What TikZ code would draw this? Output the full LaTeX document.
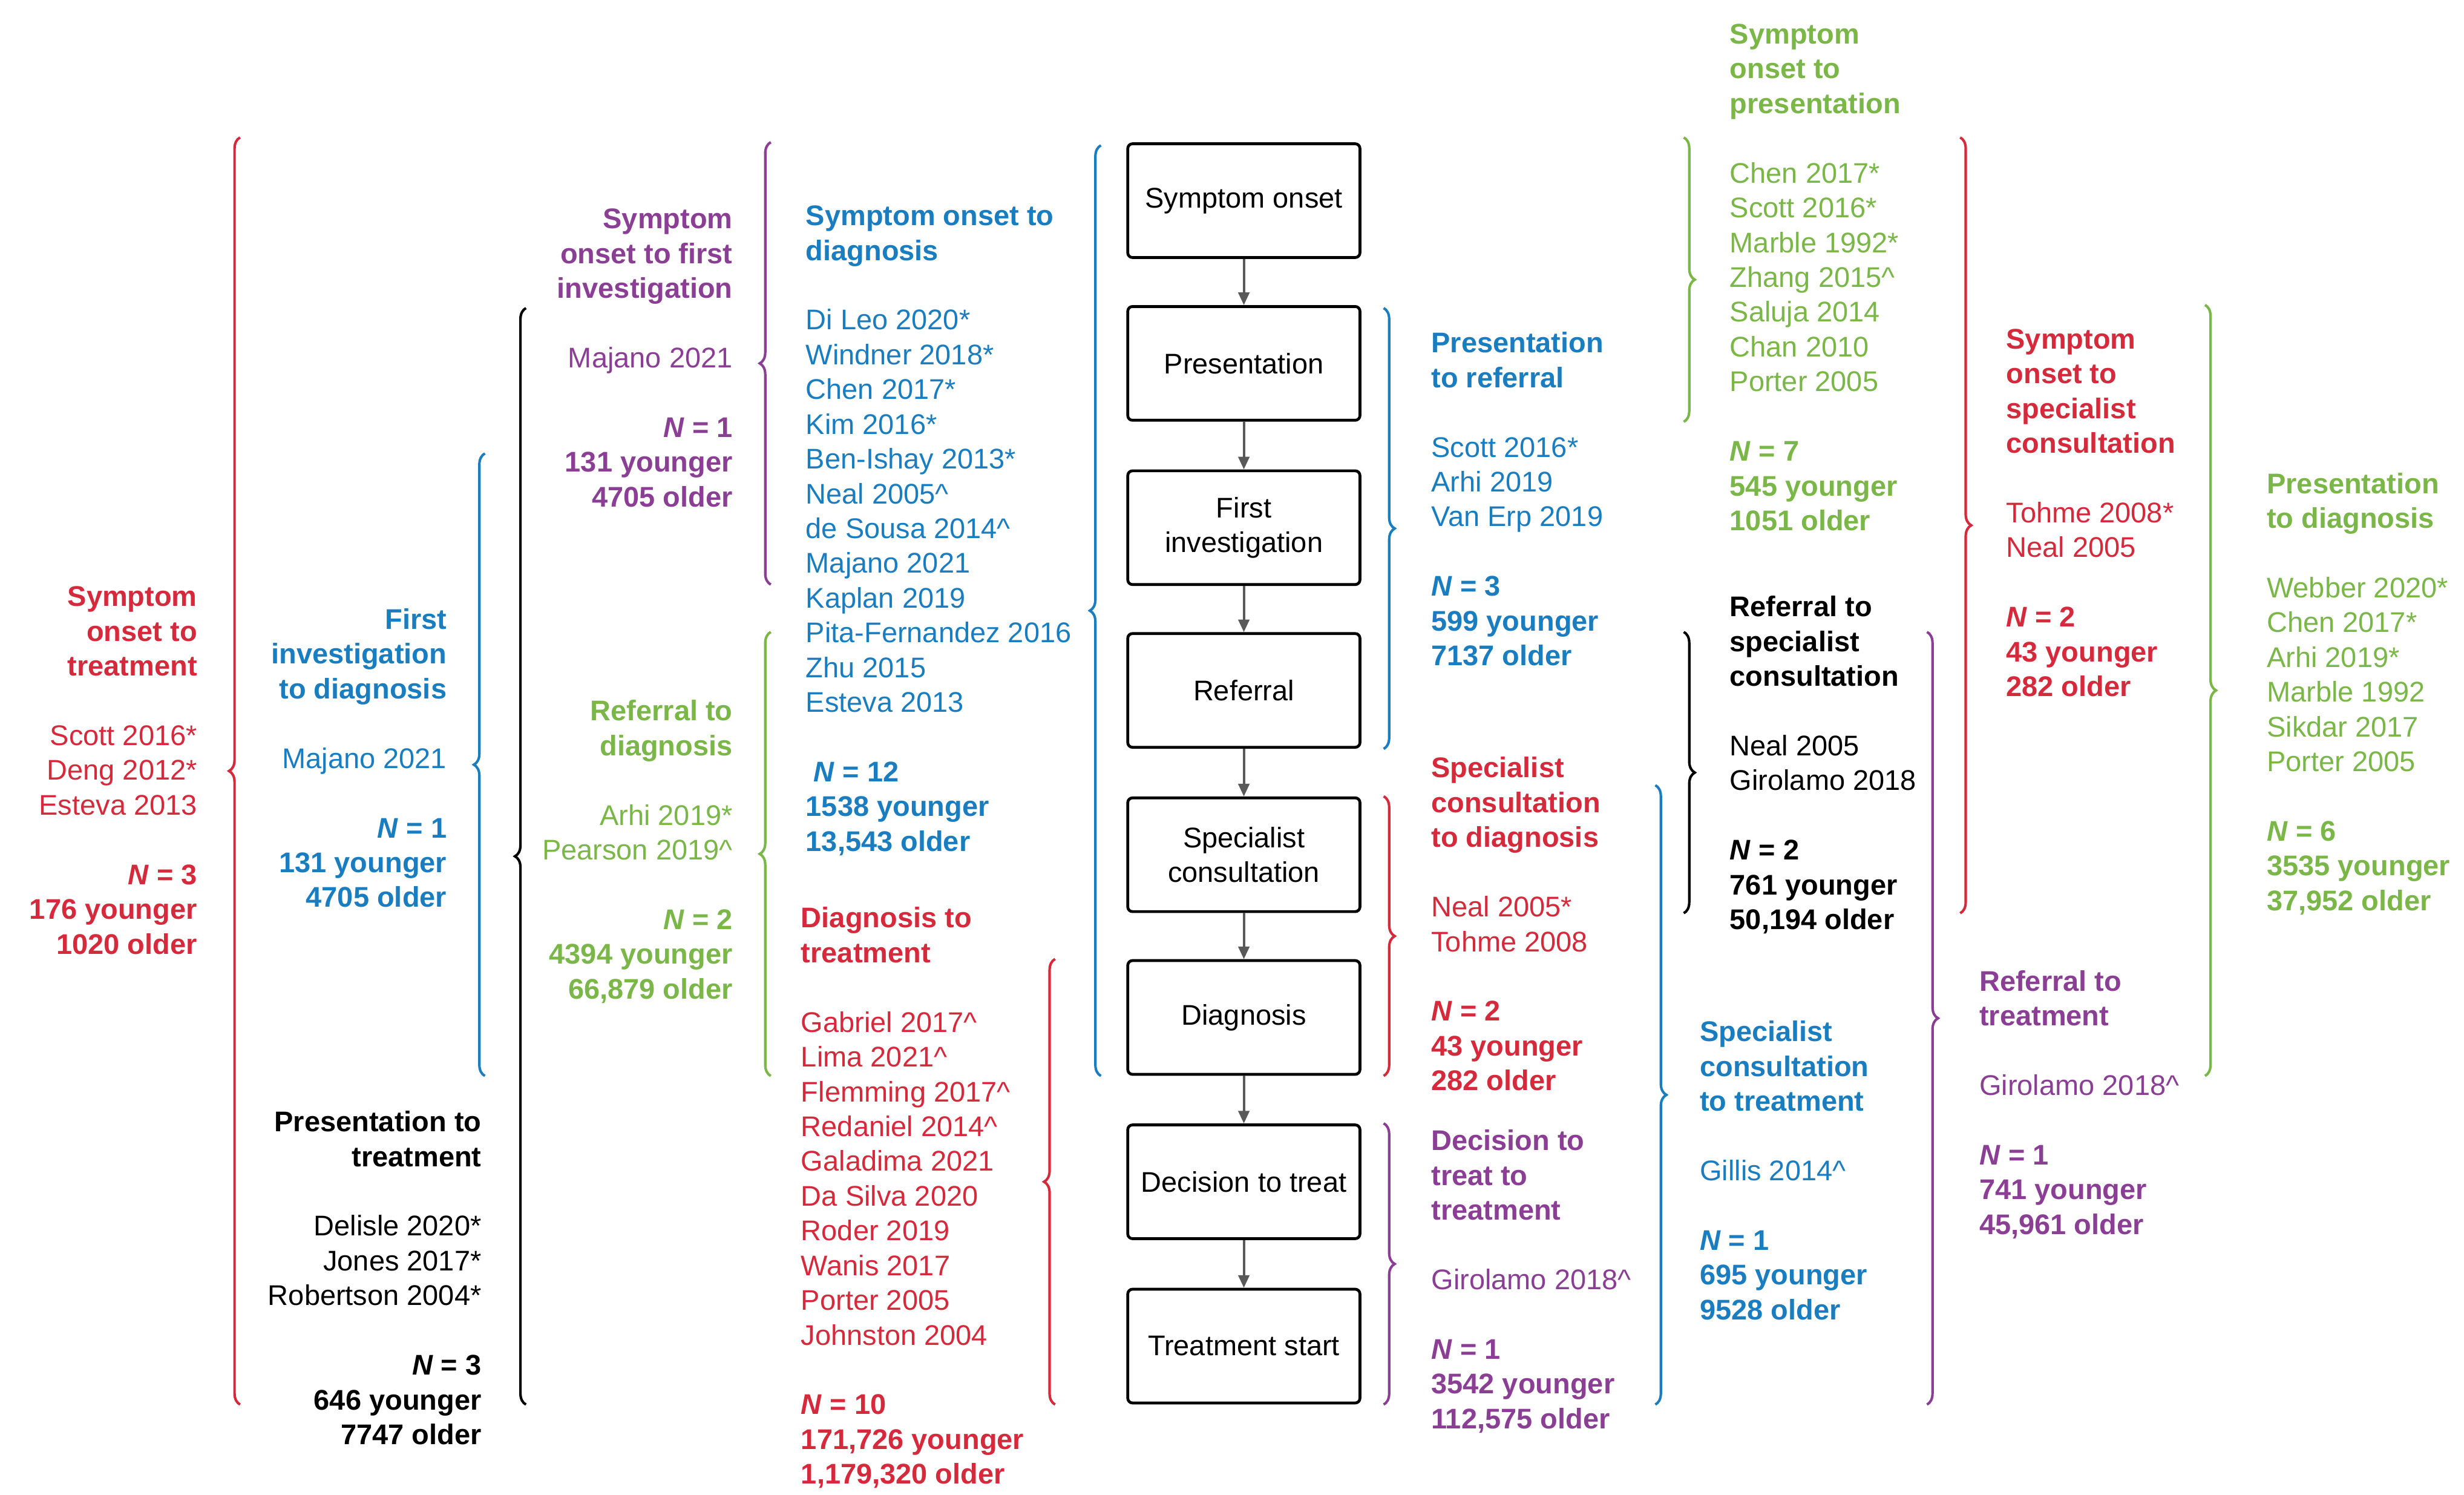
\documentclass[tikz,border=0pt]{standalone}
\usepackage{fontspec}
\setmainfont{Liberation Sans}
\usetikzlibrary{decorations.pathreplacing,arrows.meta}
\definecolor{cR}{HTML}{D42A3C}
\definecolor{cB}{HTML}{1A7DC0}
\definecolor{cG}{HTML}{7AB648}
\definecolor{cP}{HTML}{8B3F94}
\newcommand{\Nn}[1]{\textbf{\textit{N} = #1}}
\begin{document}
\begin{tikzpicture}[x=1pt,y=-1pt,
  txt/.style={inner sep=0pt,font=\fontsize{18}{22}\selectfont},
  tl/.style={txt,align=left,anchor=north west},
  tr/.style={txt,align=right,anchor=north east},
  box/.style={draw,line width=1.8pt,rounded corners=3pt,minimum width=147pt,minimum height=72pt,align=center,inner sep=2pt,font=\fontsize{18}{22}\selectfont},
  arr/.style={draw=black!65,line width=1.5pt,-{Triangle[length=8pt,width=7pt]}},
  br/.style={decorate,decoration={brace,amplitude=7pt,aspect=0.5},line width=1.6pt}]
\useasboundingbox (0,0) rectangle (1560,946);
% boxes
\node[box] (b1) at (787.5,127) {Symptom onset};
\node[box] (b2) at (787.5,230) {Presentation};
\node[box] (b3) at (787.5,334) {First\\investigation};
\node[box] (b4) at (787.5,437) {Referral};
\node[box] (b5) at (787.5,541) {Specialist\\consultation};
\node[box] (b6) at (787.5,644) {Diagnosis};
\node[box] (b7) at (787.5,748) {Decision to treat};
\node[box] (b8) at (787.5,852) {Treatment start};
\foreach \a/\b in {b1/b2,b2/b3,b3/b4,b4/b5,b5/b6,b6/b7,b7/b8} \draw[arr] (\a) -- (\b);
% left braces (tip left)
\draw[br,cR] (152,889) -- (152,87);
\draw[br,cB] (307,681) -- (307,287);
\draw[br,black] (333,889) -- (333,195);
\draw[br,cP] (488,370) -- (488,90);
\draw[br,cG] (488,681) -- (488,400);
\draw[br,cB] (697,681) -- (697,92);
\draw[br,cR] (668,889) -- (668,607);
% right braces (tip right)
\draw[br,cB] (876,195) -- (876,474);
\draw[br,cR] (876,504) -- (876,681);
\draw[br,cP] (876,711) -- (876,889);
\draw[br,cG] (1066,87) -- (1066,267);
\draw[br,black] (1066,400) -- (1066,578);
\draw[br,cB] (1048,497) -- (1048,889);
\draw[br,cR] (1241,87) -- (1241,578);
\draw[br,cP] (1220,400) -- (1220,889);
\draw[br,cG] (1396,193) -- (1396,681);
% texts left
\node[tr,text=cR] (t1) at (125,371) {\textbf{Symptom}\\\textbf{onset to}\\\textbf{treatment}\\[22pt]Scott 2016*\\Deng 2012*\\Esteva 2013\\[22pt]\Nn{3}\\\textbf{176 younger}\\\textbf{1020 older}};
\node[tr,text=cB] (t2) at (283,385) {\textbf{First}\\\textbf{investigation}\\\textbf{to diagnosis}\\[22pt]Majano 2021\\[22pt]\Nn{1}\\\textbf{131 younger}\\\textbf{4705 older}};
\node[tr,text=black] (t3) at (305,703) {\textbf{Presentation to}\\\textbf{treatment}\\[22pt]Delisle 2020*\\Jones 2017*\\Robertson 2004*\\[22pt]\Nn{3}\\\textbf{646 younger}\\\textbf{7747 older}};
\node[tr,text=cP] (t4) at (464,132) {\textbf{Symptom}\\\textbf{onset to first}\\\textbf{investigation}\\[22pt]Majano 2021\\[22pt]\Nn{1}\\\textbf{131 younger}\\\textbf{4705 older}};
\node[tr,text=cG] (t5) at (464,443) {\textbf{Referral to}\\\textbf{diagnosis}\\[22pt]Arhi 2019*\\Pearson 2019\textasciicircum\\[22pt]\Nn{2}\\\textbf{4394 younger}\\\textbf{66,879 older}};
\node[tl,text=cB] (t6) at (510,130) {\textbf{Symptom onset to}\\\textbf{diagnosis}\\[22pt]Di Leo 2020*\\Windner 2018*\\Chen 2017*\\Kim 2016*\\Ben-Ishay 2013*\\Neal 2005\textasciicircum\\de Sousa 2014\textasciicircum\\Majano 2021\\Kaplan 2019\\Pita-Fernandez 2016\\Zhu 2015\\Esteva 2013\\[22pt]\hspace{5pt}\Nn{12}\\\textbf{1538 younger}\\\textbf{13,543 older}};
\node[tl,text=cR] (t7) at (507,574) {\textbf{Diagnosis to}\\\textbf{treatment}\\[22pt]Gabriel 2017\textasciicircum\\Lima 2021\textasciicircum\\Flemming 2017\textasciicircum\\Redaniel 2014\textasciicircum\\Galadima 2021\\Da Silva 2020\\Roder 2019\\Wanis 2017\\Porter 2005\\Johnston 2004\\[22pt]\Nn{10}\\\textbf{171,726 younger}\\\textbf{1,179,320 older}};
% texts right
\node[tl,text=cB] (t8) at (906,210) {\textbf{Presentation}\\\textbf{to referral}\\[22pt]Scott 2016*\\Arhi 2019\\Van Erp 2019\\[22pt]\Nn{3}\\\textbf{599 younger}\\\textbf{7137 older}};
\node[tl,text=cR] (t9) at (906,479) {\textbf{Specialist}\\\textbf{consultation}\\\textbf{to diagnosis}\\[22pt]Neal 2005*\\Tohme 2008\\[22pt]\Nn{2}\\\textbf{43 younger}\\\textbf{282 older}};
\node[tl,text=cP] (t10) at (906,715) {\textbf{Decision to}\\\textbf{treat to}\\\textbf{treatment}\\[22pt]Girolamo 2018\textasciicircum\\[22pt]\Nn{1}\\\textbf{3542 younger}\\\textbf{112,575 older}};
\node[tl,text=cG] (t11) at (1095,15) {\textbf{Symptom}\\\textbf{onset to}\\\textbf{presentation}\\[22pt]Chen 2017*\\Scott 2016*\\Marble 1992*\\Zhang 2015\textasciicircum\\Saluja 2014\\Chan 2010\\Porter 2005\\[22pt]\Nn{7}\\\textbf{545 younger}\\\textbf{1051 older}};
\node[tl,text=black] (t12) at (1095,377) {\textbf{Referral to}\\\textbf{specialist}\\\textbf{consultation}\\[22pt]Neal 2005\\Girolamo 2018\\[22pt]\Nn{2}\\\textbf{761 younger}\\\textbf{50,194 older}};
\node[tl,text=cB] (t13) at (1076,646) {\textbf{Specialist}\\\textbf{consultation}\\\textbf{to treatment}\\[22pt]Gillis 2014\textasciicircum\\[22pt]\Nn{1}\\\textbf{695 younger}\\\textbf{9528 older}};
\node[tl,text=cR] (t14) at (1270,208) {\textbf{Symptom}\\\textbf{onset to}\\\textbf{specialist}\\\textbf{consultation}\\[22pt]Tohme 2008*\\Neal 2005\\[22pt]\Nn{2}\\\textbf{43 younger}\\\textbf{282 older}};
\node[tl,text=cP] (t15) at (1253,614) {\textbf{Referral to}\\\textbf{treatment}\\[22pt]Girolamo 2018\textasciicircum\\[22pt]\Nn{1}\\\textbf{741 younger}\\\textbf{45,961 older}};
\node[tl,text=cG] (t16) at (1435,299) {\textbf{Presentation}\\\textbf{to diagnosis}\\[22pt]Webber 2020*\\Chen 2017*\\Arhi 2019*\\Marble 1992\\Sikdar 2017\\Porter 2005\\[22pt]\Nn{6}\\\textbf{3535 younger}\\\textbf{37,952 older}};
\end{tikzpicture}
\end{document}
